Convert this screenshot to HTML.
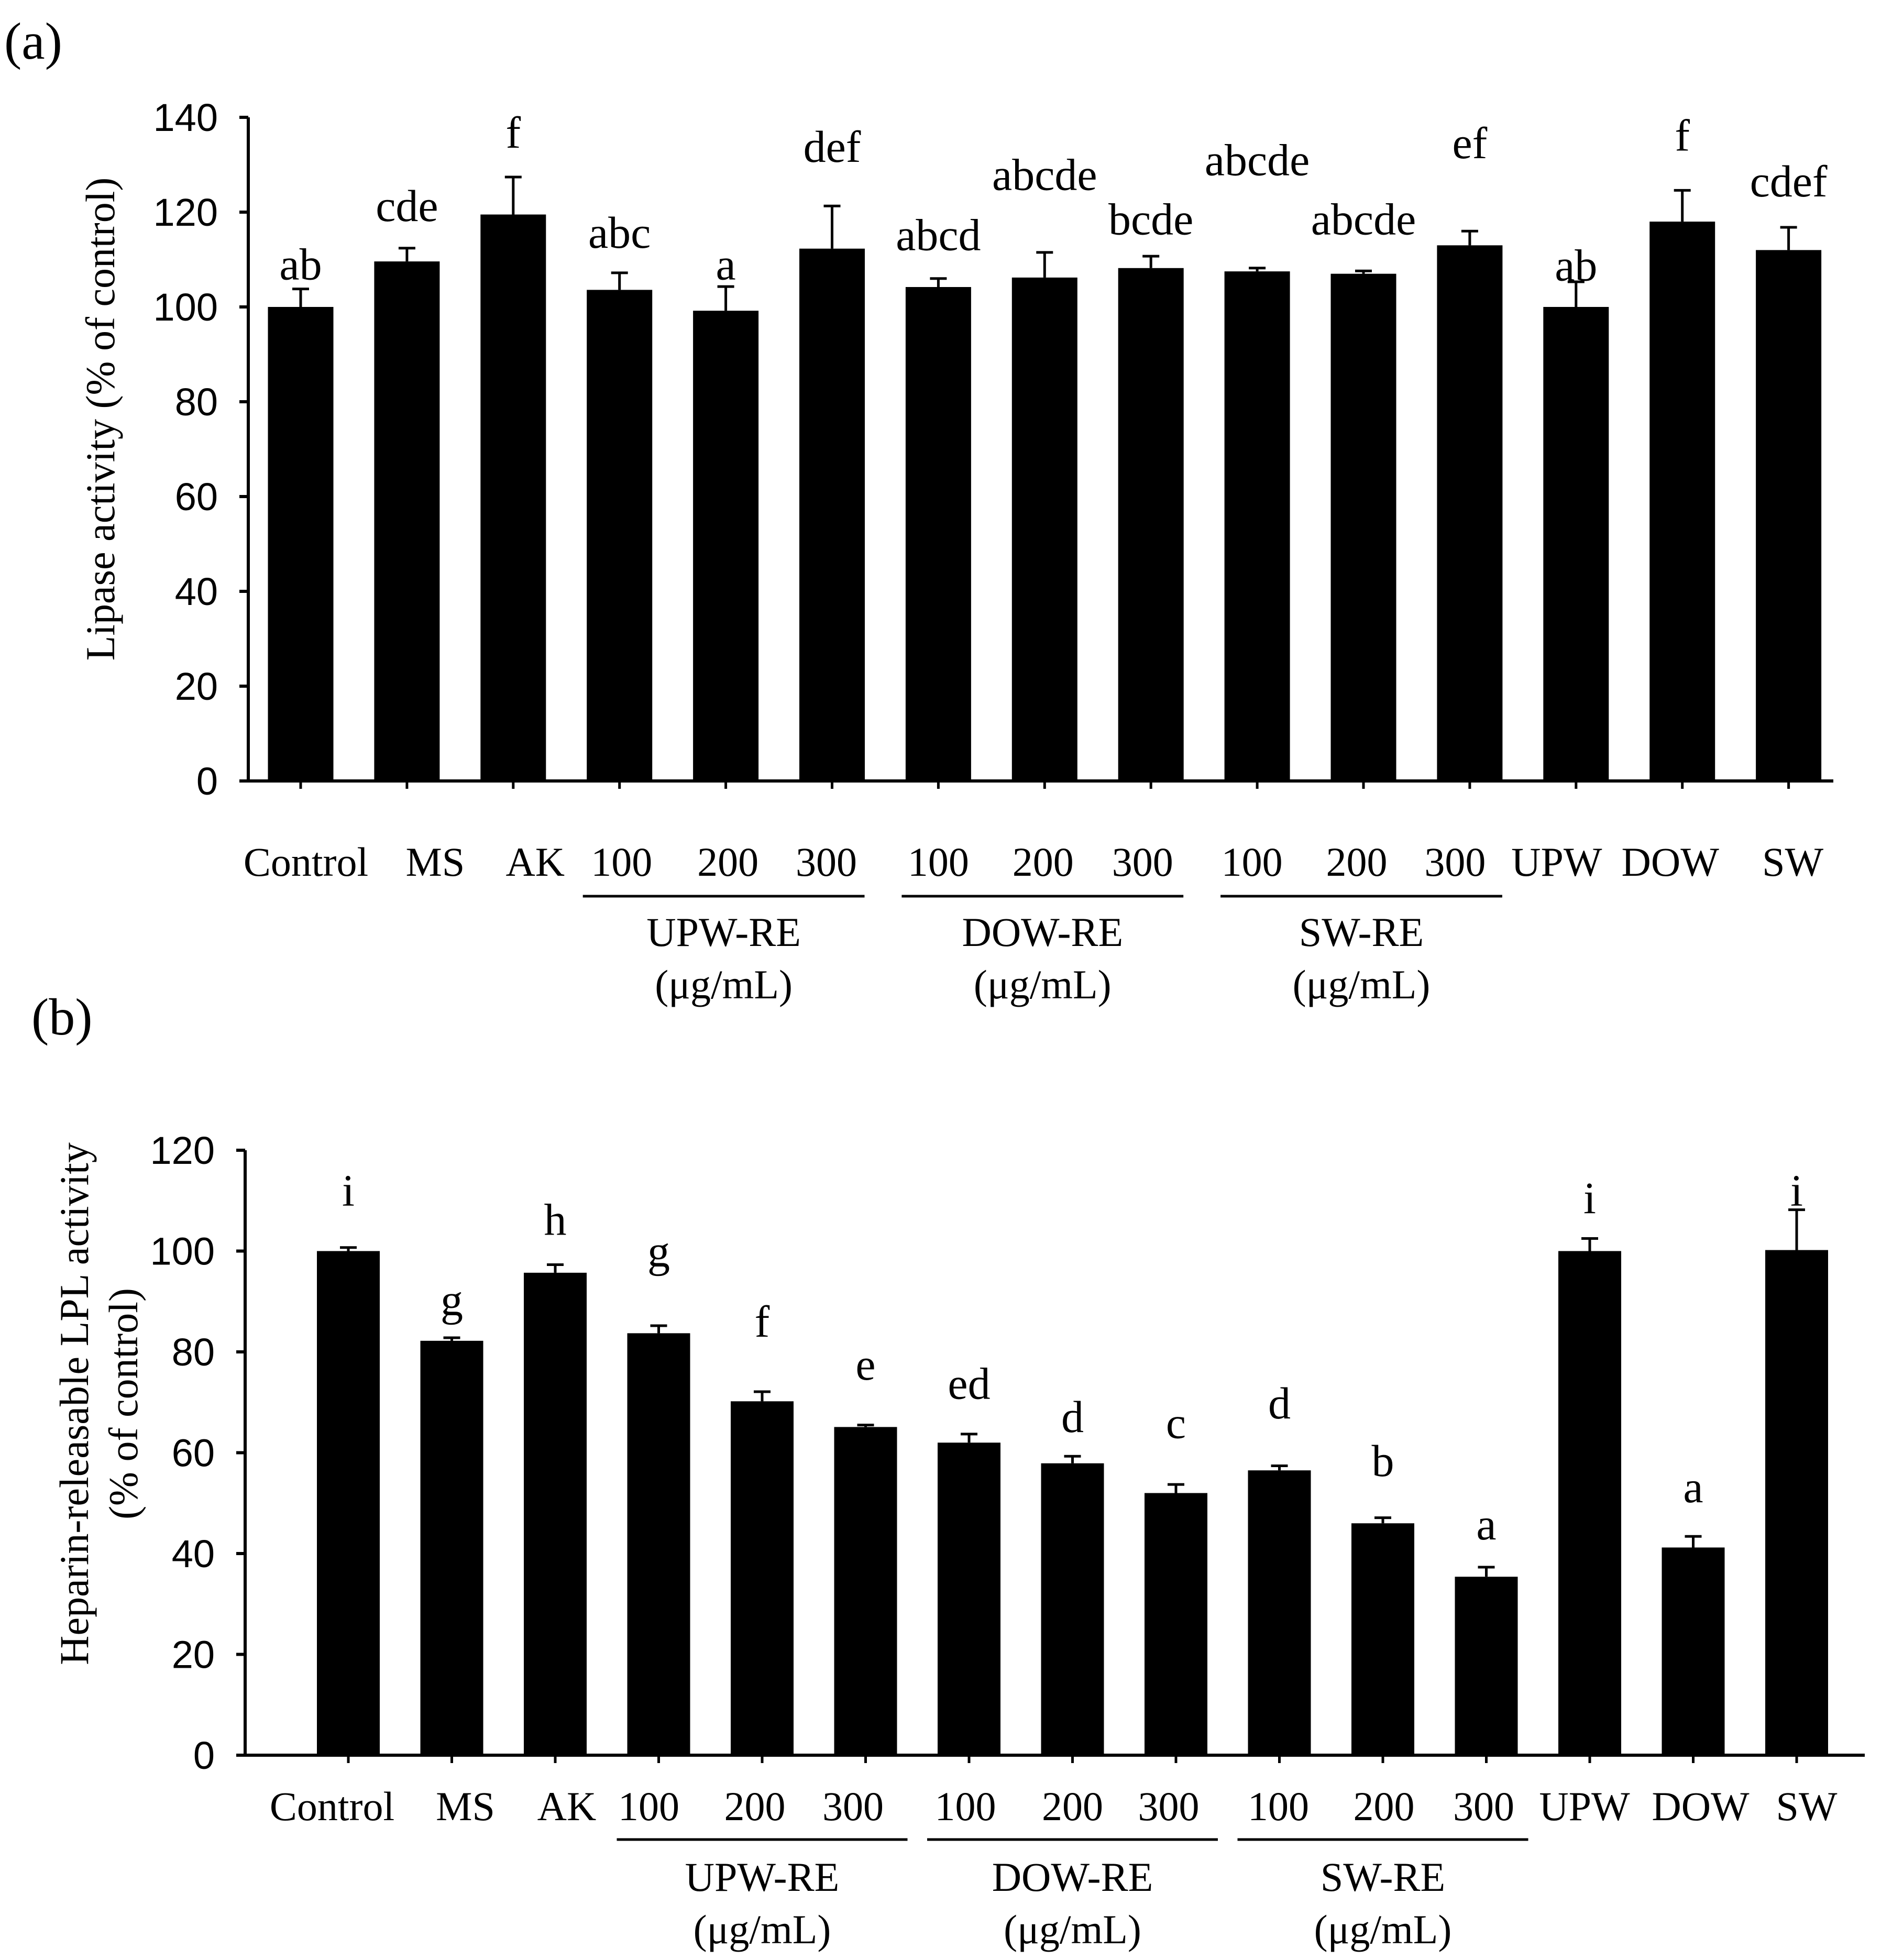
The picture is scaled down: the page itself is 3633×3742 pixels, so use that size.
<!DOCTYPE html>
<html><head><meta charset="utf-8">
<style>
html,body{margin:0;padding:0;background:#fff;}
svg{display:block;}
.tn{font-family:"Liberation Serif",serif;}
.ss{font-family:"Liberation Sans",sans-serif;}
</style></head>
<body>
<svg id="fig" width="3633" height="3742" viewBox="0 0 3633 3742" xmlns="http://www.w3.org/2000/svg">
<rect width="3633" height="3742" fill="#fff"/>
<text class="tn" x="8" y="112" font-size="100">(a)</text>
<text class="tn" x="60" y="1975" font-size="100">(b)</text>
<g id="chartA"></g>
<g id="chartB"></g>
</svg>
<script>
const categories = ["Control","MS","AK","100","200","300","100","200","300","100","200","300","UPW","DOW","SW"];
const lipaseValues = [100,109.6,119.5,103.6,99.2,112.3,104.2,106.2,108.2,107.5,107,113,100,118,112];
const lipaseErrors = [103.8,112.4,127.4,107.2,104.3,121.3,106,111.5,110.7,108.2,107.6,116,105.3,124.6,116.8];
const lipaseLetters = ["ab","cde","f","abc","a","def","abcd","abcde","bcde","abcde","abcde","ef","ab","f","cdef"];
const lipaseLetterY = [105.8,118.1,133.6,112.5,105.8,130.6,112,124.7,115.3,127.8,115.3,131.4,105.6,133,123.3];
const lipaseTicks = [0,20,40,60,80,100,120,140];
const lplValues = [100,82.2,95.7,83.7,70.2,65.1,62,57.9,52,56.5,46,35.4,100,41.2,100.2];
const lplErrors = [100.7,82.8,97.3,85.2,72.1,65.5,63.7,59.3,53.7,57.4,47.1,37.3,102.5,43.4,108.2];
const lplLetters = ["i","g","h","g","f","e","ed","d","c","d","b","a","i","a","i"];
const lplLetterY = [109,87.3,103.2,97,83,74.5,70.7,64.1,62.9,66.8,55.4,42.8,107.5,50.2,109];
const lplTicks = [0,20,40,60,80,100,120];
const groupNames = ["UPW-RE","DOW-RE","SW-RE"];
const groupStart = [3,6,9];

// layout: label x-offset from bar centre (px)
const labelShiftA = [10,54,42,4,4,-11,0,-3,-16,-10,-13,-28,-37,-23,8];
const labelShiftB = [-31,26,22,-19,-14,-24,-7,0,-14,-2,2,-5,-10,14,19];

const NS = "http://www.w3.org/2000/svg";
function mk(parent, tag, attrs, text){
  const e = document.createElementNS(NS, tag);
  for (const k in attrs) e.setAttribute(k, attrs[k]);
  if (text !== undefined) e.textContent = text;
  parent.appendChild(e);
  return e;
}

function draw(gid, cfg){
  const g = document.getElementById(gid);
  const yScale = v => cfg.base - v * cfg.pxPer;
  const xScale = i => cfg.x0 + i * cfg.step;
  const ya = mk(g,'line',{x1:cfg.axisX,y1:yScale(cfg.ticks[cfg.ticks.length-1]),x2:cfg.axisX,y2:cfg.base,stroke:'#000','stroke-width':6});
  
  
  const xa = mk(g,'line',{x1:cfg.axisX-16,y1:cfg.base,x2:cfg.axisEnd,y2:cfg.base,stroke:'#000','stroke-width':6});
  
  
  cfg.ticks.forEach(t=>{
    const y = yScale(t);
    const tl = mk(g,'line',{x1:cfg.axisX-17,y1:y,x2:cfg.axisX,y2:y,stroke:'#000','stroke-width':6});
    
    
    const tx = mk(g,'text',{x:cfg.axisX-58,y:y+26,'font-size':74,'text-anchor':'end','class':'ss'},String(t));
    
    
  });
  categories.forEach((c,i)=>{
    const cx = xScale(i);
    const v = cfg.values[i], e = cfg.errors[i];
    const b = mk(g,'rect',{x:cx-cfg.bw/2,y:yScale(v),width:cfg.bw,height:cfg.base-yScale(v),fill:'#000'});
    
    
    const el = mk(g,'path',{d:`M${cx},${yScale(v)}V${yScale(e)}M${cx-16},${yScale(e)}H${cx+16}`,stroke:'#000','stroke-width':5,fill:'none'});
    
    
    const tk = mk(g,'line',{x1:cx,y1:cfg.base,x2:cx,y2:cfg.base+15,stroke:'#000','stroke-width':5});
    
    
    const lt = mk(g,'text',{x:cx,y:yScale(cfg.letterY[i]),'font-size':86,'text-anchor':'middle','class':'tn'},cfg.letters[i]);
    
    
    const cl = mk(g,'text',{x:cx+cfg.shift[i],y:cfg.catY,'font-size':78,'text-anchor':'middle','class':'tn'},c);
    
    
  });
  groupNames.forEach((n,k)=>{
    const s = groupStart[k];
    const x1 = xScale(s)-cfg.ulL, x2 = xScale(s+2)+cfg.ulR;
    const ul = mk(g,'line',{x1:x1,y1:cfg.lineY,x2:x2,y2:cfg.lineY,stroke:'#000','stroke-width':5});
    
    
    const gx = (x1+x2)/2;
    const gl = mk(g,'text',{x:gx,y:cfg.groupY,'font-size':78,'text-anchor':'middle','class':'tn'},n);
    
    
    const ul2 = mk(g,'text',{x:gx,y:cfg.groupY+100,'font-size':78,'text-anchor':'middle','class':'tn'},'(\u03bcg/mL)');
    
    
  });
  cfg.title.forEach((t,k)=>{
    const tx = cfg.titleX[k];
    const tt = mk(g,'text',{x:tx,y:cfg.titleY,'font-size':78,'text-anchor':'middle','class':'tn',transform:`rotate(-90 ${tx} ${cfg.titleY})`},t);
    
    
  });
}

draw('chartA',{base:1491,pxPer:9.05,axisX:474,axisEnd:3500,x0:574,step:202.9,bw:125,
  ticks:lipaseTicks,values:lipaseValues,errors:lipaseErrors,letters:lipaseLetters,letterY:lipaseLetterY,shift:labelShiftA,
  ulL:70,ulR:62,catY:1672,lineY:1711,groupY:1806,title:["Lipase activity (% of control)"],titleX:[218],titleY:800});
draw('chartB',{base:3351,pxPer:9.625,axisX:468,axisEnd:3560,x0:665,step:197.5,bw:120,
  ticks:lplTicks,values:lplValues,errors:lplErrors,letters:lplLetters,letterY:lplLetterY,shift:labelShiftB,
  ulL:80,ulR:80,catY:3475,lineY:3512,groupY:3610,title:["Heparin-releasable LPL activity","(% of control)"],titleX:[168,262],titleY:2680});
</script>
</body></html>
